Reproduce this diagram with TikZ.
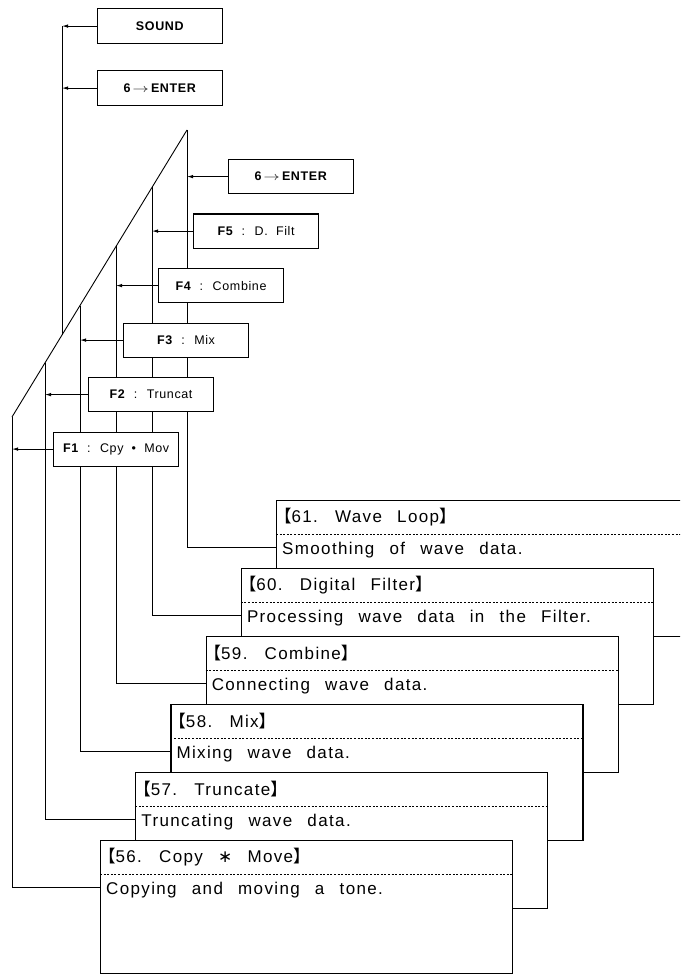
\documentclass[tikz,border=0pt]{standalone}
\usepackage{fontspec}
\usepackage{graphicx}
\usetikzlibrary{arrows.meta,calc}
\newfontfamily\bigfont{Liberation Sans}[LetterSpace=8,WordSpace=2.5]
\newfontfamily\smallfont{Liberation Sans}[LetterSpace=5,WordSpace=2]
\newfontfamily\cjkfont{Noto Sans CJK JP}
\newfontfamily\symfont{DejaVu Sans}
\newcommand\LBk{{\cjkfont\hspace{-0.45em}【}}
\newcommand\RBk{{\cjkfont 】}}
\newcommand\ToArr{\,\scalebox{1.35}[1]{$\rightarrow$}\,}
\begin{document}
\begin{tikzpicture}[x=1pt,y=-1pt,
  fbox/.style={draw, line width=1.2pt, fill=white, minimum width=125pt, minimum height=34pt,
    inner sep=0pt, anchor=north west, font=\smallfont\fontsize{12.5}{14}\selectfont},
  bigbox/.style={draw, line width=1.2pt, fill=white, minimum width=412pt, minimum height=136pt,
    inner sep=0pt, anchor=north west},
  wire/.style={line width=0.9pt},
  arr/.style={wire, -{Latex[length=6pt,width=3.5pt]}},
  ttl/.style={anchor=west, inner sep=0pt, font=\bigfont\fontsize{17}{20}\selectfont},
  sep/.style={line width=0.8pt, dash pattern=on 2pt off 1.6pt},
]
\useasboundingbox (0,0) rectangle (680,976);
\clip (0,0) rectangle (680,976);

% bus
\coordinate (apex) at (187,130);
\coordinate (bl) at (12,417);
\coordinate (d5) at (152,187.4);
\coordinate (d4) at (116,246.4);
\coordinate (d3) at (80,305.5);
\coordinate (d2) at (45,362.9);
\coordinate (d6) at (62,335);
\draw[wire] (bl) -- (apex);

% top boxes
\node[fbox, minimum height=35pt] (snd) at (97,8) {\textbf{SOUND}};
\node[fbox, minimum height=35pt] (ent1) at (97,70) {\textbf{6\ToArr ENTER}};
\coordinate (topd6) at (snd.west -| d6);
\draw[wire] (topd6) -- (d6);
\draw[arr] (snd.west) -- (topd6);
\draw[arr] (ent1.west) -- (ent1.west -| d6);

% big boxes (back to front) with their feed lines
\foreach \n/\l/\t/\h/\src/\ttxt/\btxt in {
  61/276/500/136/apex/{61. Wave Loop}/{Smoothing of wave data.},
  60/240.8/568/136/d5/{60. Digital Filter}/{Processing wave data in the Filter.},
  59/205.6/636/136/d4/{59. Combine}/{Connecting wave data.},
  58/170.4/704/136/d3/{58. Mix}/{Mixing wave data.},
  57/135.2/772/136/d2/{57. Truncate}/{Truncating wave data.},
  56/100/840/133/bl/{56. Copy {\symfont ∗} Move}/{Copying and moving a tone.}}{
  \node[bigbox, minimum height=\h pt] (b\n) at (\l,\t) {};
  \coordinate (c\n) at ($(b\n.north west)+(0,47)$);
  \draw[wire] (\src) |- (c\n);
  \node[ttl] (t\n) at ($(b\n.north west)+(6,17)$) {\LBk\ttxt\RBk};
  \draw[sep] ($(b\n.north west)+(0,34)$) -- ($(b\n.north east)+(0,34)$);
  \node[ttl] (x\n) at ($(b\n.north west)+(6,50)$) {\btxt};
}

% function boxes
\node[fbox] (ent2) at (228,159) {\textbf{6\ToArr ENTER}};
\node[fbox] (f5) at (193,213.5) {\textbf{F5} : D. Filt};
\node[fbox] (f4) at (158,268) {\textbf{F4} : Combine};
\node[fbox] (f3) at (123,322.5) {\textbf{F3} : Mix};
\node[fbox] (f2) at (88,377) {\textbf{F2} : Truncat};
\node[fbox] (f1) at (53,431.5) {\textbf{F1} : Cpy • Mov};

\draw[arr] (ent2.west) -- (ent2.west -| apex);
\draw[arr] (f5.west) -- (f5.west -| d5);
\draw[arr] (f4.west) -- (f4.west -| d4);
\draw[arr] (f3.west) -- (f3.west -| d3);
\draw[arr] (f2.west) -- (f2.west -| d2);
\draw[arr] (f1.west) -- (f1.west -| bl);
\end{tikzpicture}
\end{document}
